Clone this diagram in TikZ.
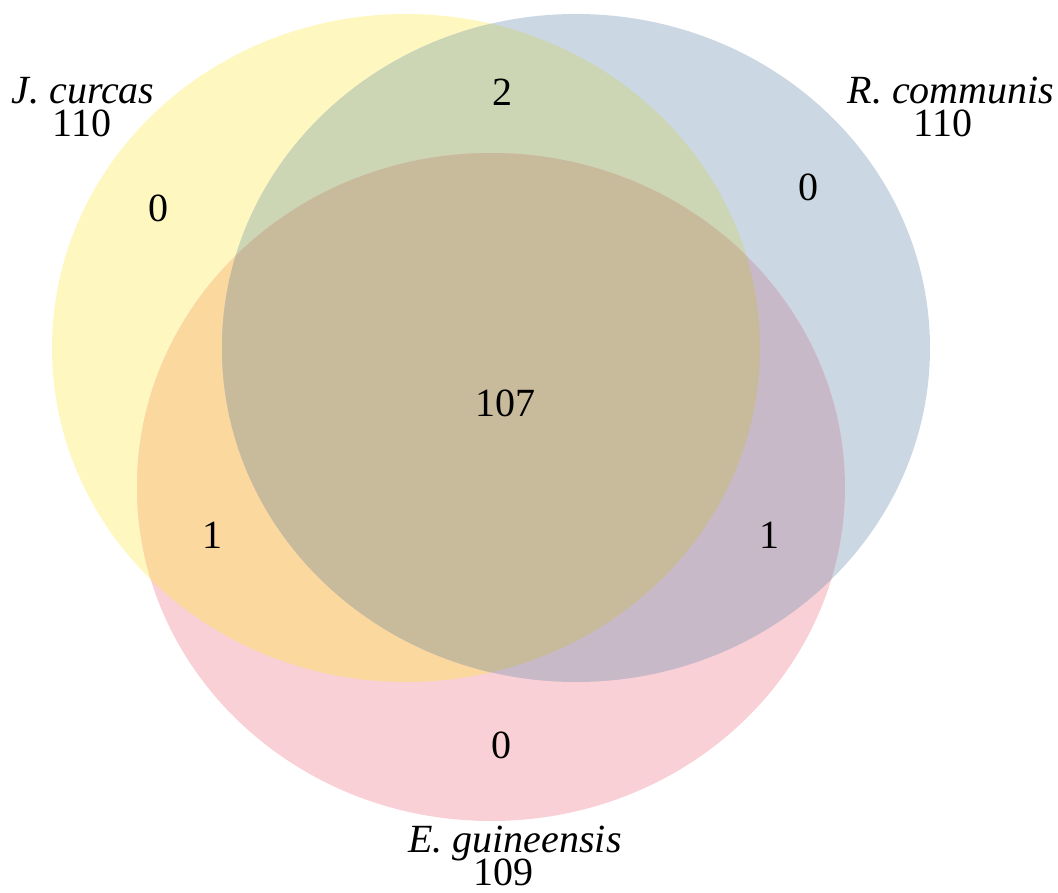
\documentclass[tikz,border=0pt]{standalone}
\usepackage{fontspec}
\setmainfont{Liberation Serif}
\definecolor{ysolo}{RGB}{255,247,192}
\definecolor{bsolo}{RGB}{203,215,226}
\definecolor{psolo}{RGB}{249,208,214}
\definecolor{ybpair}{RGB}{205,214,180}
\definecolor{yppair}{RGB}{251,216,158}
\definecolor{bppair}{RGB}{200,185,200}
\definecolor{ybptrio}{RGB}{200,187,155}
\newcommand\ypath{(406,348) ellipse [x radius=354pt, y radius=334pt]}
\newcommand\bpath{(576,348) ellipse [x radius=354pt, y radius=334pt]}
\newcommand\ppath{(491,487) ellipse [x radius=354pt, y radius=334pt]}
\begin{document}
\begin{tikzpicture}[x=1pt,y=-1pt,
  lbl/.style={font=\fontsize{40}{40}\selectfont, inner sep=0pt, anchor=base,
    text height=0.68em, text depth=0pt},
  setname/.style={font=\fontsize{40}{40}\selectfont\itshape, inner sep=0pt,
    anchor=base, text height=0.7em, text depth=0.1em}]
\useasboundingbox (0,0) rectangle (1058,892);
% single sets
\fill[ysolo] \ypath;
\fill[bsolo] \bpath;
\fill[psolo] \ppath;
% pairwise overlaps
\begin{scope}\clip \ypath; \fill[ybpair] \bpath; \end{scope}
\begin{scope}\clip \ypath; \fill[yppair] \ppath; \end{scope}
\begin{scope}\clip \bpath; \fill[bppair] \ppath; \end{scope}
% triple overlap
\begin{scope}\clip \ypath; \clip \bpath; \fill[ybptrio] \ppath; \end{scope}
% set names and totals
\node[setname] (jc) at (83,103) {J. curcas};
\node[lbl] (jcn) at (82,136) {110};
\node[setname] (rc) at (951,103) {R. communis};
\node[lbl] (rcn) at (943,136) {110};
\node[setname] (eg) at (515,852) {E. guineensis};
\node[lbl] (egn) at (503,885) {109};
% region counts
\node[lbl] (yb) at (502,105) {2};
\node[lbl] (yo) at (158,221) {0};
\node[lbl] (bo) at (808,200) {0};
\node[lbl] (all) at (505,416) {107};
\node[lbl] (yp) at (212,548) {1};
\node[lbl] (bp) at (769,548) {1};
\node[lbl] (po) at (501,758) {0};
\end{tikzpicture}
\end{document}
